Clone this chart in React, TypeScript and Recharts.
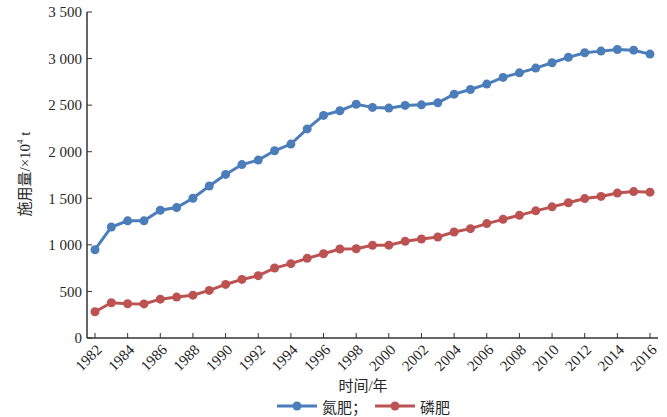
import { LineChart, Line, XAxis, YAxis, Legend } from "recharts";

const years = [
  "1982", "1983", "1984", "1985", "1986", "1987", "1988", "1989", "1990", "1991",
  "1992", "1993", "1994", "1995", "1996", "1997", "1998", "1999", "2000", "2001",
  "2002", "2003", "2004", "2005", "2006", "2007", "2008", "2009", "2010", "2011",
  "2012", "2013", "2014", "2015", "2016",
];

const nitrogen = [
  948, 1192, 1258, 1258, 1372, 1400, 1500, 1632, 1756, 1862,
  1910, 2010, 2082, 2245, 2390, 2440, 2510, 2476, 2468, 2497,
  2503, 2525, 2618, 2668, 2726, 2798, 2847, 2898, 2955, 3013,
  3062, 3080, 3098, 3090, 3048,
];

const phosphate = [
  282, 378, 368, 366, 417, 439, 460, 511, 575, 629,
  669, 751, 798, 855, 905, 955, 958, 995, 997, 1038,
  1063, 1084, 1138, 1174, 1228, 1274, 1317, 1365, 1408, 1452,
  1497, 1520, 1556, 1572, 1566,
];

const yTicks = [0, 500, 1000, 1500, 2000, 2500, 3000, 3500];

const data = years.map((year, i) => ({
  year,
  nitrogen: nitrogen[i],
  phosphate: phosphate[i],
}));

const FONT = '"Liberation Serif", Tinos, "Times New Roman", "DejaVu Serif", "Noto Sans CJK SC", serif';
const TEXT = "#262626";
const BLUE = "#4a7dba";
const RED = "#bc5251";

const fmt = (v: number) => {
  const s = String(v);
  return s.length > 3 ? s.slice(0, s.length - 3) + " " + s.slice(-3) : s;
};

const XTick = (props: any) => {
  const { x, y, payload } = props;
  const ax = x + 4;
  const ay = y;
  return (
    <text
      x={ax}
      y={ay}
      dy="0.35em"
      textAnchor="end"
      transform={`rotate(-45 ${ax} ${ay})`}
      fill={TEXT}
      fontSize={15}
      style={{ fontFamily: FONT }}
    >
      {payload.value}
    </text>
  );
};

const YTick = (props: any) => {
  const { x, y, payload } = props;
  return (
    <text
      x={x}
      y={y}
      dy="0.35em"
      textAnchor="end"
      fill={TEXT}
      fontSize={15}
      style={{ fontFamily: FONT }}
    >
      {fmt(payload.value)}
    </text>
  );
};

const LegendMark = ({ color }: { color: string }) => (
  <svg width={40} height={12} style={{ display: "block" }}>
    <line x1={0} y1={6} x2={40} y2={6} stroke={color} strokeWidth={3} />
    <circle cx={20} cy={6} r={4.5} fill={color} />
  </svg>
);

const renderLegend = () => (
  <div
    style={{
      height: 22,
      width: 667,
      display: "flex",
      alignItems: "center",
      paddingLeft: 277,
      boxSizing: "border-box",
      fontFamily: FONT,
      fontSize: 15,
      color: TEXT,
    }}
  >
    <LegendMark color={BLUE} />
    <span style={{ marginLeft: 5, marginRight: 8 }}>氮肥；</span>
    <LegendMark color={RED} />
    <span style={{ marginLeft: 5 }}>磷肥</span>
  </div>
);

export default function App() {
  return (
    <div style={{ position: "absolute", left: 0, top: 0, background: "#fff", fontFamily: FONT }}>
      <LineChart
        width={667}
        height={417}
        data={data}
        margin={{ top: 12, right: 9, bottom: 0, left: 0 }}
        style={{ fontFamily: FONT }}
      >
        <XAxis
          dataKey="year"
          interval={1}
          padding={{ left: 8, right: 8 }}
          height={57}
          tickSize={-5}
          tickMargin={14}
          tick={<XTick />}
          axisLine={{ stroke: "#333", strokeWidth: 1.5 }}
          tickLine={{ stroke: "#333" }}
          label={{
            content: () => (
              <text
                x={363}
                y={386}
                textAnchor="middle"
                dominantBaseline="central"
                fill={TEXT}
                fontSize={15}
                style={{ fontFamily: FONT }}
              >
                时间/年
              </text>
            ),
          }}
        />
        <XAxis
          xAxisId="top"
          dataKey="year"
          orientation="top"
          height={0}
          tick={false}
          tickLine={false}
          axisLine={{ stroke: "#999" }}
        />
        <YAxis
          domain={[0, 3500]}
          ticks={yTicks}
          width={87}
          tickSize={-5}
          tickMargin={10}
          tick={<YTick />}
          axisLine={{ stroke: "#333", strokeWidth: 1.5 }}
          tickLine={{ stroke: "#333" }}
          label={{
            content: () => (
              <text
                x={25}
                y={174}
                textAnchor="middle"
                dominantBaseline="central"
                transform="rotate(-90 25 174)"
                fill={TEXT}
                fontSize={15}
                style={{ fontFamily: FONT }}
              >
                施用量/×10<tspan fontSize={9} dy={-5}>4</tspan>
                <tspan dy={5}> t</tspan>
              </text>
            ),
          }}
        />
        <YAxis
          yAxisId="right"
          orientation="right"
          width={0}
          domain={[0, 3500]}
          tick={false}
          tickLine={false}
          axisLine={{ stroke: "#888", strokeWidth: 2 }}
        />
        <Legend verticalAlign="bottom" content={renderLegend} wrapperStyle={{ left: 0, width: 667 }} />
        <Line
          dataKey="nitrogen"
          name="氮肥"
          stroke={BLUE}
          strokeWidth={3}
          dot={{ r: 4.5, fill: BLUE, stroke: BLUE, strokeWidth: 0 }}
          isAnimationActive={false}
        />
        <Line
          dataKey="phosphate"
          name="磷肥"
          stroke={RED}
          strokeWidth={3}
          dot={{ r: 4.5, fill: RED, stroke: RED, strokeWidth: 0 }}
          isAnimationActive={false}
        />
      </LineChart>
    </div>
  );
}
